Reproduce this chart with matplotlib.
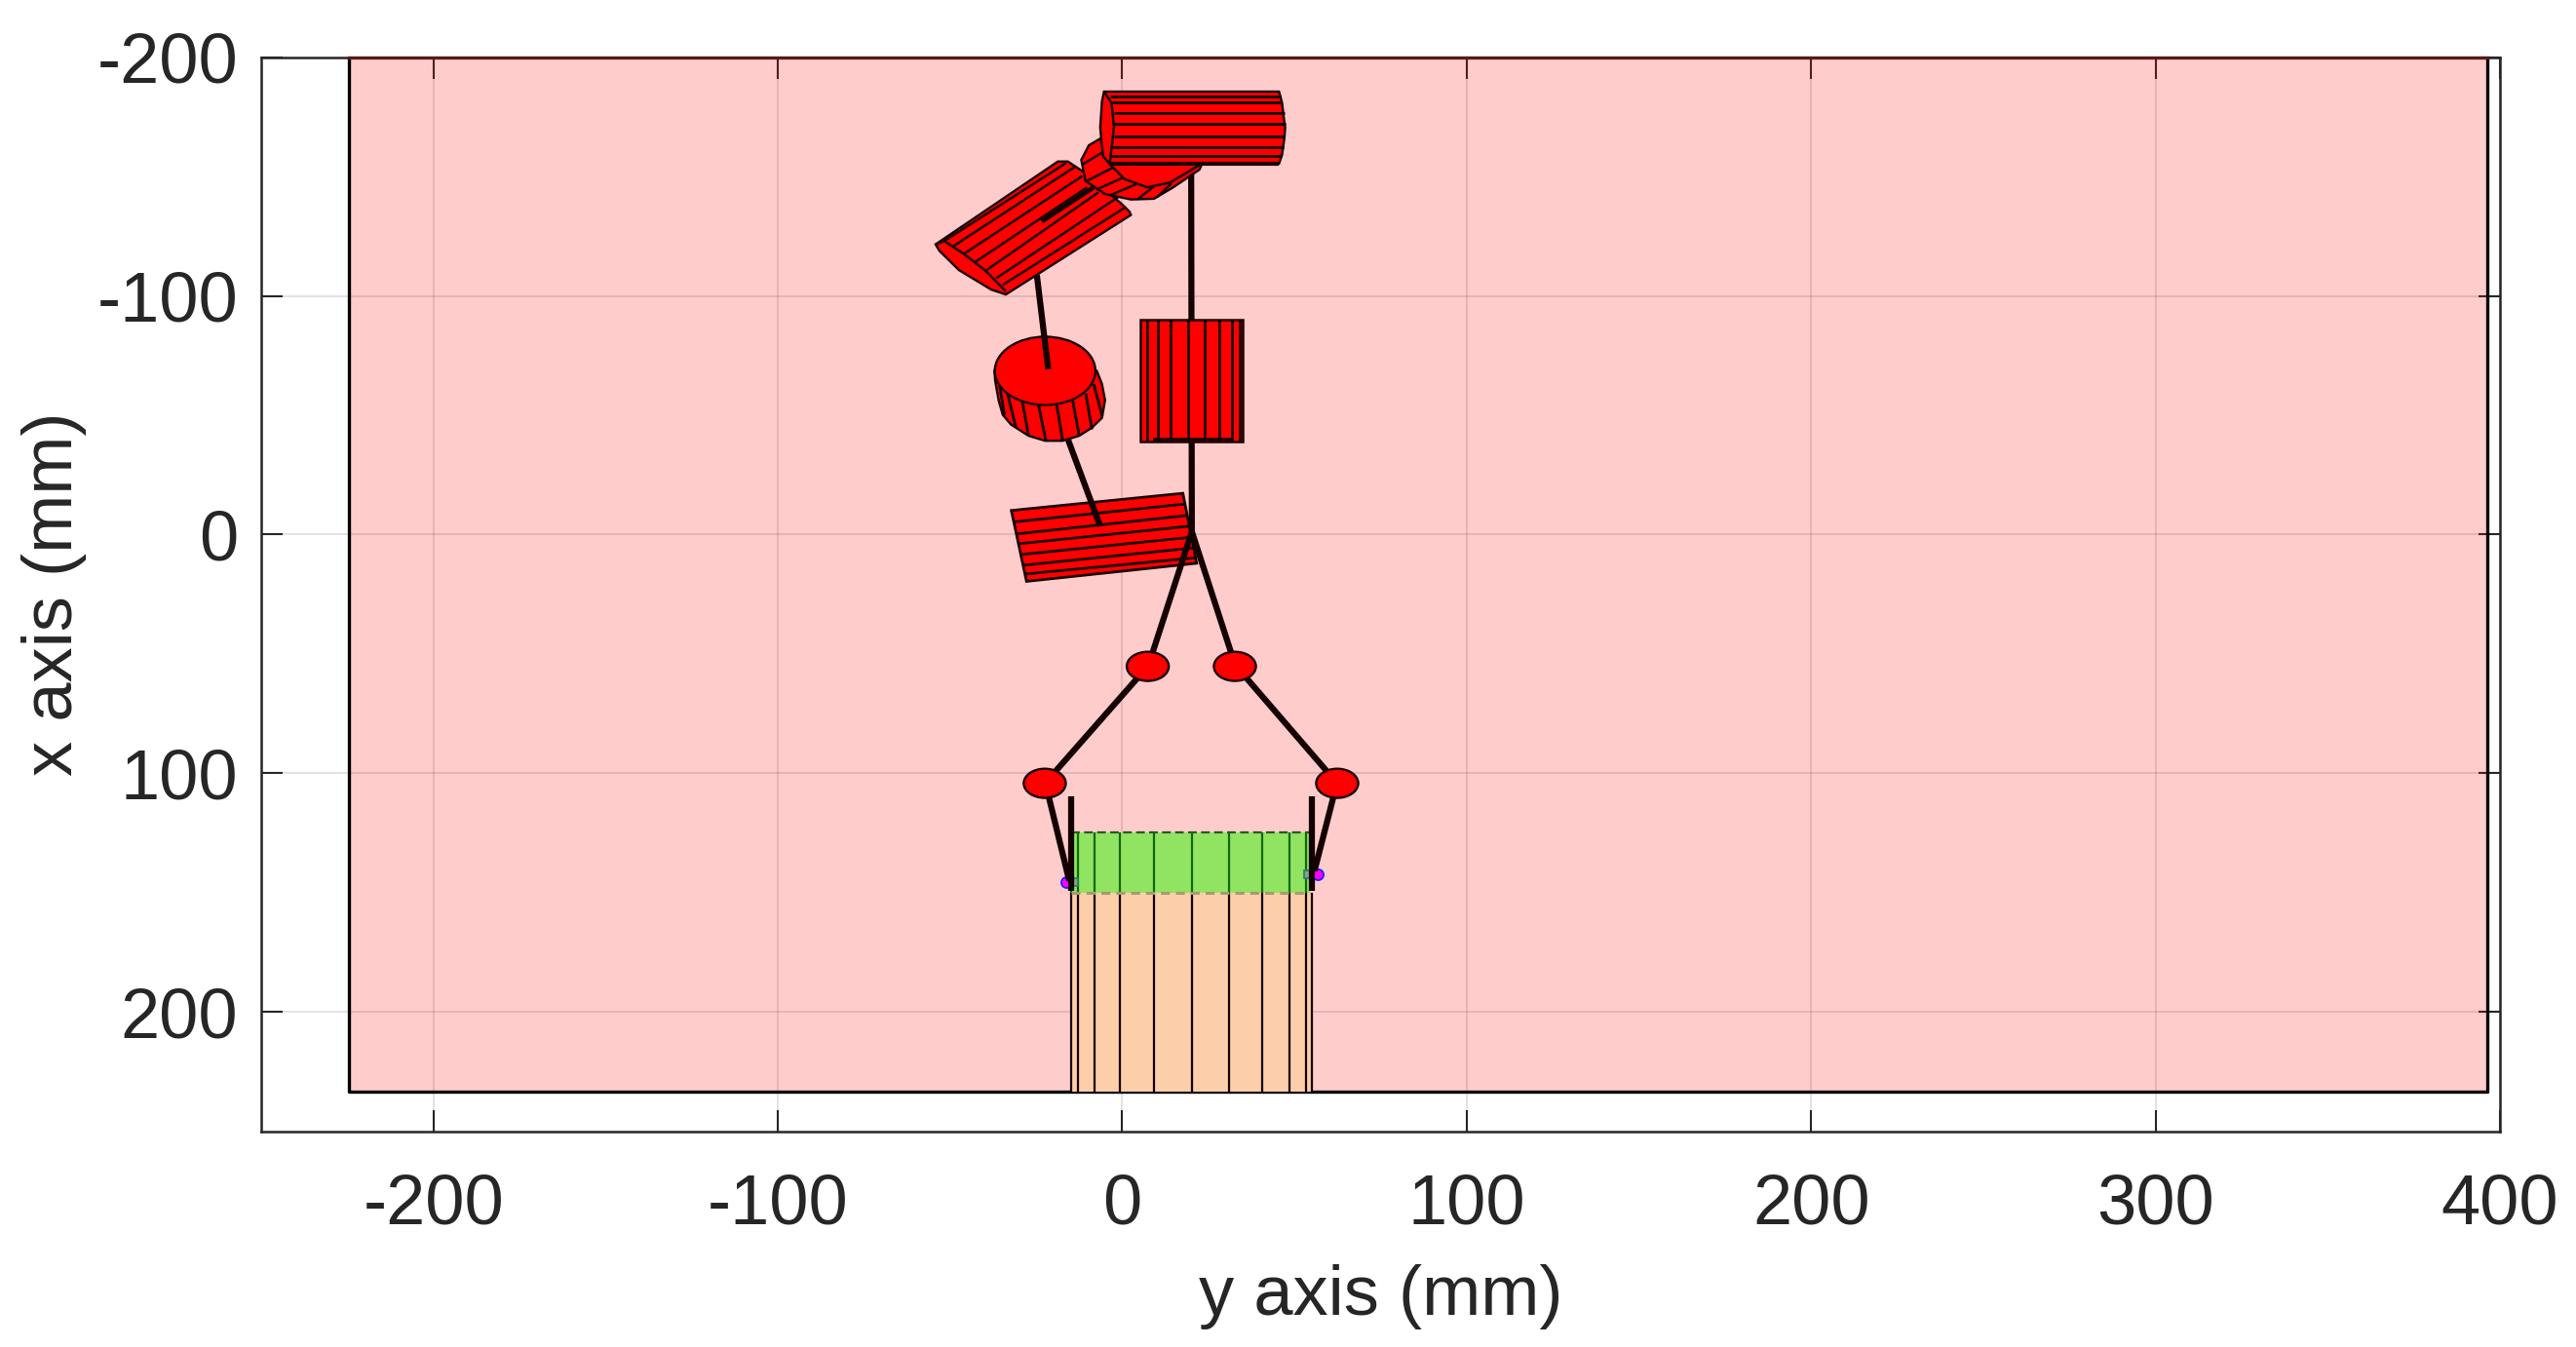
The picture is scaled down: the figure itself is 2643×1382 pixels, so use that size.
"""Top view of the two finger gripper above the workspace, in robot base coordinates."""

import matplotlib
matplotlib.use("Agg")

import matplotlib.pyplot as plt
from matplotlib.patches import Ellipse, Polygon, Rectangle

plt.rcParams["font.family"] = ["Liberation Sans", "DejaVu Sans"]
plt.rcParams["axes.unicode_minus"] = False

# ── data (mm, y axis first as on the plot) ────────────────────────────────

X_TICKS = [-200, -100, 0, 100, 200, 300, 400]
Y_TICKS = [-200, -100, 0, 100, 200]

WORKSPACE_Y = [-224.5, 396.3]
WORKSPACE_X = [-200, 233.2]

# top cylinder
TOP_OUTLINE = [(-5.3, -185.6), (45.5, -185.6), (45.9, -183.6), (46.4, -180.8), (46.9, -174.7),
               (47.3, -170.6), (47.1, -166.5), (46.4, -159.1), (45.5, -155.4), (-3.6, -155.4),
               (-5.5, -158.4), (-5.9, -162.5), (-6.4, -170.6), (-5.9, -181.5)]
TOP_CAP = [(-5.3, -185.6), (-3.1, -180.8), (-2.4, -170.6), (-3.3, -159.7), (-3.6, -155.4)]
TOP_FACET_LEFT = [-3.6, -2.9, -2.4, -2.4, -2.4, -2.9, -3.3]
TOP_FACET_RIGHT = [45.9, 46.4, 47.0, 47.3, 47.2, 46.8, 46.3]
TOP_FACET_X = [-183.6, -181.1, -176.8, -172.3, -167.0, -162.5, -158.8]

# joint disc behind the top cylinder
DISC_OUTLINE = [(-6.4, -165.9), (-9.7, -163.1), (-11.9, -157.0), (-10.7, -148.2), (-5.0, -142.7),
                (2.5, -140.4), (9.2, -140.7), (14.8, -145.5), (22.4, -152.9), (23.3, -155.7),
                (-3.6, -155.4)]
DISC_CAP = [(-5.9, -159.7), (-4.0, -155.7), (0.7, -148.9), (7.3, -145.5), (13.9, -147.5),
            (19.5, -152.3), (23.3, -155.7)]
DISC_FACETS = [((-11.6, -155.0), (-5.5, -160.4)), ((-10.2, -148.2), (-2.9, -153.6)),
               ((-7.6, -144.5), (0.2, -149.5)), ((-3.6, -142.1), (4.0, -146.8)),
               ((4.4, -140.4), (9.2, -145.9)), ((10.1, -141.4), (14.3, -147.2))]

# tilted arm cylinder
ARM_OUTLINE = [(-54.2, -121.6), (-18.7, -156.3), (-15.8, -156.3), (-11.6, -152.3), (-0.3, -138.7),
               (2.1, -135.3), (2.5, -133.9), (-33.8, -100.6), (-38.0, -102.6), (-47.4, -110.8),
               (-53.1, -118.9)]
ARM_CAP = [(-54.2, -121.6), (-51.7, -123.0), (-46.0, -117.6), (-39.9, -110.8), (-33.8, -101.9)]
ARM_FACETS = [((-51.7, -123.0), (-16.3, -155.7)), ((-49.3, -120.6), (-13.5, -154.3)),
              ((-46.0, -117.6), (-11.6, -150.2)), ((-42.7, -114.2), (-10.2, -145.5)),
              ((-39.4, -110.8), (-6.9, -143.4)), ((-36.6, -107.4), (-1.2, -141.4)),
              ((-34.7, -104.6), (1.1, -137.3))]
ARM_ROD = [(-23.4, -131.2), (-8.3, -145.5)]

# short cylinder seen from above
CYL_CENTER = (-22.4, -68.6)
CYL_SIZE = (29.2, 28.6)
CYL_SIDE = [(-37.1, -68.6), (-36.9, -64.5), (-35.9, -56.3), (-34.7, -50.2), (-32.3, -46.1),
            (-27.2, -41.4), (-22.4, -39.3), (-17.3, -39.3), (-12.5, -41.4), (-8.8, -44.8),
            (-5.9, -48.9), (-5.0, -56.3), (-5.9, -63.1), (-7.4, -68.6)]
CYL_FACETS = [((-35.6, -62.5), (-34.2, -50.2)), ((-33.3, -59.1), (-30.9, -44.8)),
              ((-29.0, -55.7), (-27.2, -41.4)), ((-24.3, -54.3), (-22.2, -39.3)),
              ((-19.1, -55.0), (-17.3, -39.3)), ((-14.4, -56.3), (-12.5, -41.4)),
              ((-10.6, -59.1), (-8.8, -44.1)), ((-8.3, -63.1), (-5.8, -49.5))]

# square column on the vertical link
COLUMN_Y = [5.2, 35.1]
COLUMN_X = [-89.9, -38.9]
COLUMN_FACETS = [7.3, 10.3, 14.1, 19.1, 23.9, 28.2, 31.8, 34.1]
COLUMN_THICK = [(9.0, -40.0), (31.8, -40.0)]

# flat base
BASE_OUTLINE = [(-32.2, -10.1), (17.6, -17.3), (21.6, 12.0), (-27.8, 19.6)]
BASE_FACETS = [((-31.4, -5.3), (18.1, -12.8)), ((-30.5, -0.3), (18.8, -8.0)),
               ((-29.8, 3.8), (19.3, -3.5)), ((-29.0, 8.3), (20.0, 1.1)),
               ((-28.4, 12.8), (20.5, 5.6)), ((-28.1, 16.5), (21.2, 9.7))]

# links, the finger ones run on under the joints
LINKS = [
    [(20.0, -155.7), (20.2, -1.2)],
    [(-24.8, -108.7), (-21.5, -69.3)],
    [(-15.8, -40.0), (-6.4, -3.5)],
    [(20.2, -1.2), (8.0, 53.0)],
    [(20.2, -1.2), (32.4, 53.0)],
    [(6.0, 57.5), (-20.5, 101.0)],
    [(34.5, 57.5), (60.5, 101.0)],
    [(-22.0, 106.0), (-15.4, 145.0)],
    [(62.0, 106.0), (55.8, 140.9)],
    [(-14.9, 109.7), (-14.9, 149.1)],
    [(55.1, 109.7), (55.1, 149.1)],
]

# finger joints
JOINT_CENTERS = [(7.4, 55.2), (32.7, 55.2), (-22.5, 104.2), (62.4, 104.2)]
JOINT_SIZE = (12.2, 12.2)

# object on the table
OBJECT_Y = [-14.9, 54.6]
GRASP_X = [124.9, 150.2]
OBJECT_BOTTOM = 233.2
OBJECT_FACETS = [-14.9, -13.0, -8.1, -0.8, 9.1, 20.2, 31.1, 40.5, 48.5, 53.3, 55.1]

CONTACT_A = [(-16.3, 145.7), (56.8, 142.3)]
CONTACT_B = [(-14.0, 145.7), (54.0, 142.3)]

# ── style ─────────────────────────────────────────────────────────────────

W, H = 2643, 1382
TEXT = "#262626"
LINK = "#150000"
RED = "#ff0000"
EDGE = "#1a0000"
FS = 52


def solid(ax, points, z, lw=1.7):
    ax.add_patch(Polygon(points, closed=True, facecolor=RED, edgecolor=EDGE, linewidth=lw, zorder=z))


def path(ax, points, z, lw=1.8, color=EDGE):
    ax.plot([p[0] for p in points], [p[1] for p in points], color=color, linewidth=lw,
            solid_capstyle="butt", zorder=z)


# ── plotting ──────────────────────────────────────────────────────────────

fig = plt.figure(figsize=(W / 100, H / 100), dpi=100)
ax = fig.add_axes([268 / W, 1 - 1160.7 / H, 2297 / W, 1102 / H])

ax.add_patch(Rectangle((WORKSPACE_Y[0], WORKSPACE_X[0]), WORKSPACE_Y[1] - WORKSPACE_Y[0],
                       WORKSPACE_X[1] - WORKSPACE_X[0], facecolor=(1, 0, 0, 0.2),
                       edgecolor="none", zorder=1))
ax.plot([WORKSPACE_Y[0], WORKSPACE_Y[0], WORKSPACE_Y[1], WORKSPACE_Y[1]],
        [WORKSPACE_X[0], WORKSPACE_X[1], WORKSPACE_X[1], WORKSPACE_X[0]],
        color="black", linewidth=2.4, zorder=1.1)
ax.plot(WORKSPACE_Y, [WORKSPACE_X[0]] * 2, color="#5a1a1a", linewidth=2.4, zorder=6, clip_on=False)

# object and grasped region
ax.add_patch(Rectangle((OBJECT_FACETS[0], GRASP_X[1]), OBJECT_FACETS[-1] - OBJECT_FACETS[0],
                       OBJECT_BOTTOM - GRASP_X[1], facecolor="#fcceaa", edgecolor="none", zorder=2))
ax.add_patch(Rectangle((OBJECT_Y[0], GRASP_X[0]), OBJECT_Y[1] - OBJECT_Y[0],
                       GRASP_X[1] - GRASP_X[0], facecolor="#91e462", edgecolor="none", zorder=2.1))
ax.vlines(OBJECT_FACETS, GRASP_X[1], OBJECT_BOTTOM, color=LINK, linewidth=1.6, zorder=2.2)
ax.vlines(OBJECT_FACETS[:-1], GRASP_X[0], GRASP_X[1], color="#0f6a00", linewidth=1.6, zorder=2.2)
ax.plot(OBJECT_Y, [GRASP_X[0]] * 2, color="#2a5a20", linewidth=1.6, linestyle=(0, (4, 2)), zorder=2.3)
ax.plot(OBJECT_Y, [GRASP_X[1]] * 2, color="#a89a70", linewidth=2.2, linestyle=(0, (3, 2)), zorder=2.3)

# links
for link in LINKS:
    path(ax, link, 3, lw=4.5, color=LINK)

# arm, disc, top cylinder
solid(ax, ARM_OUTLINE, 4)
path(ax, ARM_CAP, 4.1)
for facet in ARM_FACETS:
    path(ax, facet, 4.1)
solid(ax, DISC_OUTLINE, 4.2)
path(ax, DISC_CAP, 4.3)
for facet in DISC_FACETS:
    path(ax, facet, 4.3)
path(ax, ARM_ROD, 4.4, lw=3.4, color=LINK)
solid(ax, TOP_OUTLINE, 4.5)
path(ax, TOP_CAP, 4.6)
for x0, x1, x in zip(TOP_FACET_LEFT, TOP_FACET_RIGHT, TOP_FACET_X):
    path(ax, [(x0, x), (x1, x)], 4.6, lw=2.1)
path(ax, [TOP_OUTLINE[8], TOP_OUTLINE[9]], 4.6, lw=3.0)

# short cylinder, the link ends on its top face
solid(ax, CYL_SIDE, 2.5)
for facet in CYL_FACETS:
    path(ax, facet, 2.6, lw=2.1)
ax.add_patch(Ellipse(CYL_CENTER, CYL_SIZE[0], CYL_SIZE[1], facecolor=RED, edgecolor=EDGE,
                     linewidth=1.7, zorder=2.7))

# column
ax.add_patch(Rectangle((COLUMN_Y[0], COLUMN_X[0]), COLUMN_Y[1] - COLUMN_Y[0],
                       COLUMN_X[1] - COLUMN_X[0], facecolor=RED, edgecolor=EDGE,
                       linewidth=1.8, zorder=4))
ax.vlines(COLUMN_FACETS, COLUMN_X[0], COLUMN_X[1], color=EDGE, linewidth=2.0, zorder=4.1)
path(ax, COLUMN_THICK, 4.1, lw=2.6)

# base plate
solid(ax, BASE_OUTLINE, 2.5, lw=2.0)
for facet in BASE_FACETS:
    path(ax, facet, 2.6, lw=2.0)

# finger joints
for center in JOINT_CENTERS:
    ax.add_patch(Ellipse(center, JOINT_SIZE[0], JOINT_SIZE[1], facecolor=RED, edgecolor=EDGE,
                         linewidth=1.7, zorder=4))

# contact markers
ax.plot([p[0] for p in CONTACT_A], [p[1] for p in CONTACT_A], linestyle="none", marker="o",
        markersize=8, markerfacecolor="#ff00ff", markeredgecolor="#2020ff", markeredgewidth=1.3, zorder=2.8)
ax.plot([p[0] for p in CONTACT_B], [p[1] for p in CONTACT_B], linestyle="none", marker="s",
        markersize=6, markerfacecolor="#8f9f80", markeredgecolor="#1f7f70", markeredgewidth=1.2, zorder=2.9)

ax.set_xlim(-250, 400)
ax.set_ylim(250, -200)
ax.set_xticks(X_TICKS)
ax.set_yticks(Y_TICKS)
ax.set_axisbelow(True)
ax.grid(True, color=TEXT, alpha=0.15, linewidth=1.3)
ax.tick_params(direction="in", length=16, width=1.5, color=TEXT, labelcolor=TEXT, labelsize=FS,
               top=True, right=True)
ax.tick_params(axis="x", pad=31)
ax.tick_params(axis="y", pad=17)
for spine in ax.spines.values():
    spine.set_linewidth(1.8)
    spine.set_color(TEXT)
    spine.set_zorder(5)

ax.set_xlabel("y axis (mm)", fontsize=FS, color=TEXT, labelpad=19)
ax.set_ylabel("x axis (mm)", fontsize=FS, color=TEXT, labelpad=8)

fig.savefig("out.png", dpi=100)
plt.close(fig)
